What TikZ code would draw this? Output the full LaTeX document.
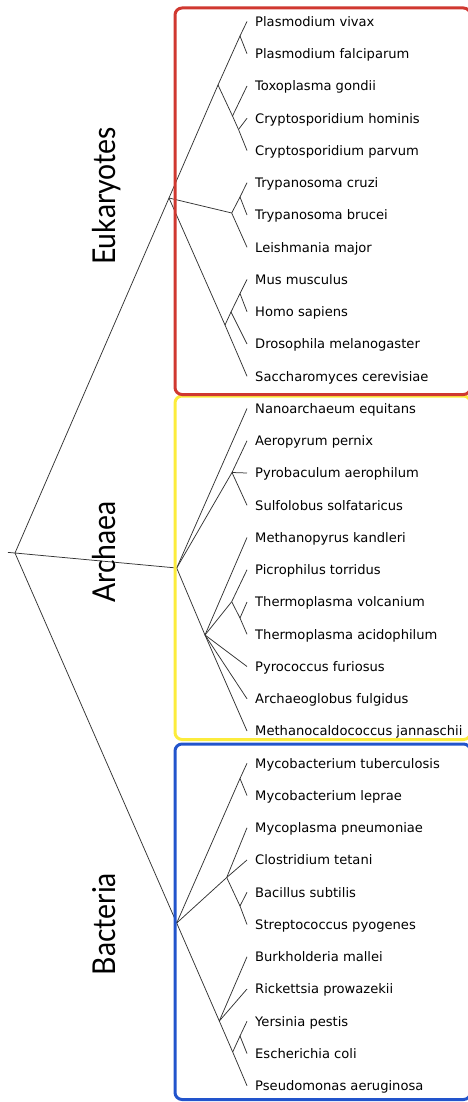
\documentclass[tikz,border=0pt]{standalone}
\usepackage{fontspec}
\setmainfont{DejaVu Sans}
\newfontfamily\domfont[FakeStretch=0.9]{Lato}
\definecolor{boxred}{RGB}{208,56,48}
\definecolor{boxyellow}{RGB}{252,236,60}
\definecolor{boxblue}{RGB}{34,84,204}
\begin{document}
\begin{tikzpicture}[x=1pt,y=-1pt,
  branch/.style={draw=black!80, line width=0.75pt},
  leaf/.style={anchor=west, inner xsep=8pt, inner ysep=0pt, text height=11pt, text depth=1.4pt,
    font=\fontsize{13.1}{15}\selectfont},
  domlabel/.style={rotate=90, anchor=base, inner sep=0pt, font=\domfont\fontsize{31.5}{36}\selectfont},
  clade/.style={line width=3pt, rounded corners=7pt}]
\useasboundingbox (0,0) rectangle (468,1102);
% leaves
\foreach \t [count=\i from 0] in {Plasmodium vivax, Plasmodium falciparum, Toxoplasma gondii,
  Cryptosporidium hominis, Cryptosporidium parvum, Trypanosoma cruzi, Trypanosoma brucei,
  Leishmania major, Mus musculus, Homo sapiens, Drosophila melanogaster, Saccharomyces cerevisiae,
  Nanoarchaeum equitans, Aeropyrum pernix, Pyrobaculum aerophilum, Sulfolobus solfataricus,
  Methanopyrus kandleri, Picrophilus torridus, Thermoplasma volcanium, Thermoplasma acidophilum,
  Pyrococcus furiosus, Archaeoglobus fulgidus, Methanocaldococcus jannaschii,
  Mycobacterium tuberculosis, Mycobacterium leprae, Mycoplasma pneumoniae, Clostridium tetani,
  Bacillus subtilis, Streptococcus pyogenes, Burkholderia mallei, Rickettsia prowazekii,
  Yersinia pestis, Escherichia coli, Pseudomonas aeruginosa}
  \node[leaf] (l\i) at (247,{21.5+32.25*\i}) {\t};
% internal nodes
\coordinate (stub) at (8,552.4);
\coordinate (R) at (15,553);
\coordinate (EU) at (169,198);
\coordinate (E2) at (218,85);
\coordinate (E1) at (240,36);
\coordinate (T) at (232.5,116);
\coordinate (Cp) at (238.5,129.5);
\coordinate (Kn) at (231.7,213);
\coordinate (Tp) at (240,197);
\coordinate (O) at (225,325);
\coordinate (A) at (231,312);
\coordinate (MH) at (240,293.5);
\coordinate (AR) at (176.7,568);
\coordinate (C1) at (232,472.5);
\coordinate (EY) at (205,635);
\coordinate (TP) at (231.7,601.7);
\coordinate (TT) at (240,618);
\coordinate (B) at (176.7,923);
\coordinate (My) at (240,778.5);
\coordinate (F) at (226.7,877.5);
\coordinate (BS) at (240,906);
\coordinate (P) at (219.3,1021);
\coordinate (G) at (232.7,1052);
\coordinate (YE) at (240,1036);
% branches
\draw[branch] (stub) -- (R);
\draw[branch] (R) -- (EU); \draw[branch] (R) -- (AR); \draw[branch] (R) -- (B);
\draw[branch] (EU) -- (E2); \draw[branch] (EU) -- (Kn); \draw[branch] (EU) -- (O);
\draw[branch] (E2) -- (E1); \draw[branch] (E1) -- (l0.west); \draw[branch] (E1) -- (l1.west);
\draw[branch] (E2) -- (T); \draw[branch] (T) -- (l2.west); \draw[branch] (T) -- (Cp);
\draw[branch] (Cp) -- (l3.west); \draw[branch] (Cp) -- (l4.west);
\draw[branch] (Kn) -- (Tp); \draw[branch] (Tp) -- (l5.west); \draw[branch] (Tp) -- (l6.west);
\draw[branch] (Kn) -- (l7.west);
\draw[branch] (O) -- (A); \draw[branch] (A) -- (MH); \draw[branch] (MH) -- (l8.west);
\draw[branch] (MH) -- (l9.west); \draw[branch] (A) -- (l10.west); \draw[branch] (O) -- (l11.west);
\draw[branch] (AR) -- (l12.west); \draw[branch] (AR) -- (C1);
\draw[branch] (C1) -- (l13.west); \draw[branch] (C1) -- (l14.west); \draw[branch] (C1) -- (l15.west);
\draw[branch] (AR) -- (EY); \draw[branch] (EY) -- (l16.west); \draw[branch] (EY) -- (TP);
\draw[branch] (TP) -- (l17.west); \draw[branch] (TP) -- (TT);
\draw[branch] (TT) -- (l18.west); \draw[branch] (TT) -- (l19.west);
\draw[branch] (EY) -- (l20.west); \draw[branch] (EY) -- (l21.west); \draw[branch] (EY) -- (l22.west);
\draw[branch] (B) -- (My); \draw[branch] (My) -- (l23.west); \draw[branch] (My) -- (l24.west);
\draw[branch] (B) -- (F); \draw[branch] (F) -- (l25.west); \draw[branch] (F) -- (l26.west);
\draw[branch] (F) -- (BS); \draw[branch] (BS) -- (l27.west); \draw[branch] (BS) -- (l28.west);
\draw[branch] (B) -- (P); \draw[branch] (P) -- (l29.west); \draw[branch] (P) -- (l30.west);
\draw[branch] (P) -- (G); \draw[branch] (G) -- (YE); \draw[branch] (YE) -- (l31.west);
\draw[branch] (YE) -- (l32.west); \draw[branch] (G) -- (l33.west);
% clade boxes
\draw[clade, draw=boxyellow] (175,396) rectangle (470.5,739.5);
\draw[clade, draw=boxred] (175,8) rectangle (470.5,394.5);
\draw[clade, draw=boxblue] (175,744) rectangle (470.5,1099.5);
% domain labels
\node[domlabel] (euk) at (115,196) {Eukaryotes};
\node[domlabel] (arc) at (115,552) {Archaea};
\node[domlabel] (bac) at (115,924) {Bacteria};
\end{tikzpicture}
\end{document}
